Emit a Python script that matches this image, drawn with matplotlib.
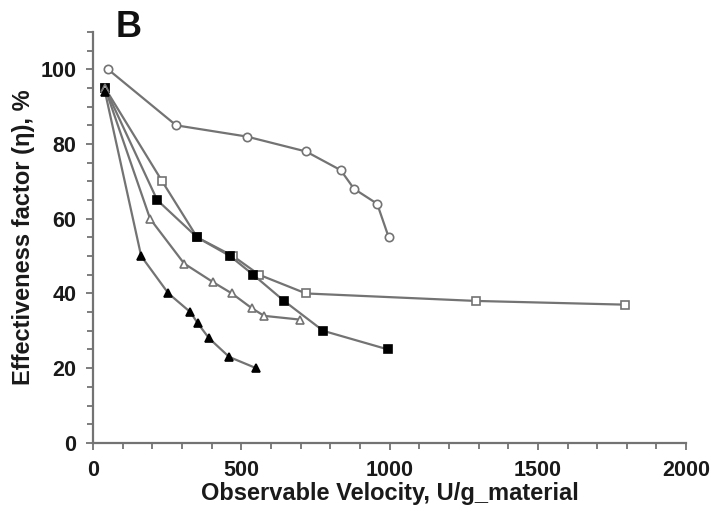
import numpy as np
import matplotlib.pyplot as plt
from matplotlib.ticker import MultipleLocator

plt.rcParams['font.family'] = ['Liberation Sans', 'DejaVu Sans']
plt.rcParams['font.weight'] = 'bold'

# open circles
v_oc = [50, 280, 518, 718, 835, 880, 958, 997]
e_oc = [100, 85, 82, 78, 73, 68, 64, 55]
# open squares
v_os = [40, 233, 351, 472, 560, 718, 1290, 1795]
e_os = [95, 70, 55, 50, 45, 40, 38, 37]
# filled squares
v_fs = [40, 216, 351, 462, 540, 644, 776, 995]
e_fs = [95, 65, 55, 50, 45, 38, 30, 25]
# open triangles
v_ot = [40, 192, 307, 405, 468, 536, 577, 698]
e_ot = [95, 60, 48, 43, 40, 36, 34, 33]
# filled triangles
v_ft = [40, 162, 254, 328, 353, 391, 459, 550]
e_ft = [94, 50, 40, 35, 32, 28, 23, 20]

fig = plt.figure(figsize=(7.11, 5.15), dpi=100)
ax = fig.add_axes([0.131, 0.140, 0.834, 0.798])

lc = '#737373'
kw = dict(color=lc, lw=1.6, ms=6, mew=1.2)
ax.plot(v_oc, e_oc, marker='o', mfc='white', mec=lc, **kw)
ax.plot(v_os, e_os, marker='s', mfc='white', mec=lc, **kw)
ax.plot(v_fs, e_fs, marker='s', mfc='black', mec='black', **kw)
ax.plot(v_ot, e_ot, marker='^', mfc='white', mec=lc, **kw)
ax.plot(v_ft, e_ft, marker='^', mfc='black', mec='black', **kw)

ax.set_xlim(0, 2000)
ax.set_ylim(0, 110)
ax.xaxis.set_major_locator(MultipleLocator(500))
ax.xaxis.set_minor_locator(MultipleLocator(100))
ax.yaxis.set_major_locator(MultipleLocator(20))
ax.yaxis.set_minor_locator(MultipleLocator(5))
ax.set_yticks(np.arange(0, 101, 20))

for s in ['top', 'right']:
    ax.spines[s].set_visible(False)
for s in ['left', 'bottom']:
    ax.spines[s].set_color(lc)
    ax.spines[s].set_linewidth(1.6)

ax.tick_params(which='both', direction='out', color=lc, width=1.3,
               labelsize=15.5, labelcolor='#1a1a1a')
ax.tick_params(which='major', length=5, pad=7)
ax.tick_params(which='minor', length=4)
for lab in ax.get_xticklabels() + ax.get_yticklabels():
    lab.set_fontweight('bold')

ax.set_xlabel('Observable Velocity, U/g_material', fontsize=17,
              fontweight='bold', color='#1a1a1a', labelpad=1)
ax.set_ylabel('Effectiveness factor (η), %', fontsize=17,
              fontweight='bold', color='#1a1a1a', labelpad=4)

fig.text(0.163, 0.928, 'B', fontsize=26, fontweight='bold', color='#111111')

fig.savefig('out.png', dpi=100)
